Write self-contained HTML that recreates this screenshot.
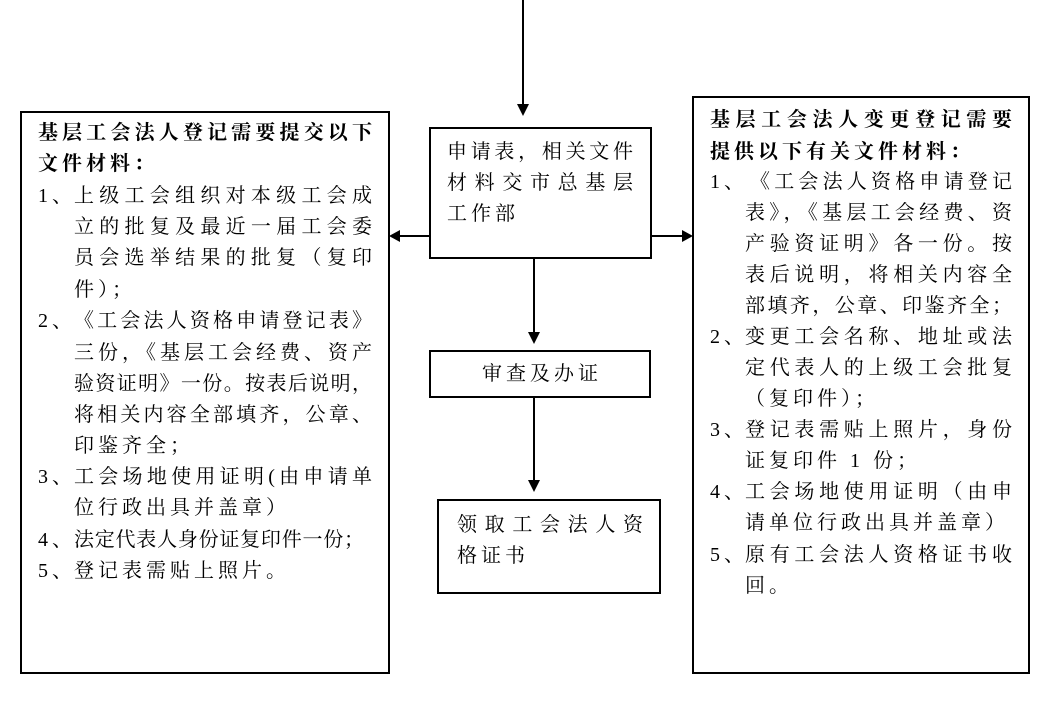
<!DOCTYPE html>
<html><head><meta charset="utf-8"><style>
body{margin:0;width:1047px;height:706px;background:#fff;position:relative;overflow:hidden;font-family:"Liberation Serif","Noto Serif CJK SC",serif;color:#000}
.b{position:absolute;border:2px solid #000;box-sizing:border-box}
.l{position:absolute;font-size:20px;line-height:24px;white-space:nowrap;letter-spacing:4px}
.j{position:absolute;font-size:20px;line-height:24px;text-align:justify;text-align-last:justify;height:24px;overflow:visible}
.t{font-weight:bold}
</style></head><body>
<div class="b" style="left:20px;top:111px;width:370px;height:563px"></div>
<div class="b" style="left:692px;top:96px;width:338px;height:578px"></div>
<div class="b" style="left:429px;top:127px;width:223px;height:132px"></div>
<div class="b" style="left:429px;top:350px;width:222px;height:48px"></div>
<div class="b" style="left:437px;top:499px;width:224px;height:95px"></div>
<svg style="position:absolute;left:0;top:0" width="1047" height="706">
<g stroke="#000" stroke-width="2" fill="none">
<line x1="523" y1="0" x2="523" y2="106"/>
<line x1="430" y1="236" x2="398" y2="236"/>
<line x1="652" y1="236" x2="684" y2="236"/>
<line x1="534" y1="259" x2="534" y2="334"/>
<line x1="534" y1="398" x2="534" y2="482"/>
</g>
<g fill="#000">
<polygon points="517,104 529,104 523,116"/>
<polygon points="400,230 400,242 389,236"/>
<polygon points="682,230 682,242 693,236"/>
<polygon points="528,332 540,332 534,344"/>
<polygon points="528,480 540,480 534,492"/>
</g>
</svg>
<!-- left -->
<div class="j t" style="left:38px;top:121px;width:334px">基层工会法人登记需要提交以下</div>
<div class="l t" style="left:38px;top:152px">文件材料：</div>
<div class="l" style="left:38px;top:184px">1、</div>
<div class="j" style="left:74px;top:184px;width:298px">上级工会组织对本级工会成</div>
<div class="j" style="left:74px;top:215px;width:298px">立的批复及最近一届工会委</div>
<div class="j" style="left:74px;top:246px;width:298px">员会选举结果的批复（复印</div>
<div class="l" style="left:74px;top:278px">件）；</div>
<div class="l" style="left:38px;top:309px">2、</div>
<div class="j" style="left:74px;top:309px;width:298px">《工会法人资格申请登记表》</div>
<div class="j" style="left:74px;top:341px;width:298px">三份，《基层工会经费、资产</div>
<div class="j" style="left:74px;top:372px;width:298px">验资证明》一份。按表后说明，</div>
<div class="j" style="left:74px;top:403px;width:298px">将相关内容全部填齐，公章、</div>
<div class="l" style="left:74px;top:434px">印鉴齐全；</div>
<div class="l" style="left:38px;top:465px">3、</div>
<div class="j" style="left:74px;top:465px;width:298px">工会场地使用证明(由申请单</div>
<div class="l" style="left:74px;top:496px">位行政出具并盖章）</div>
<div class="l" style="left:38px;top:528px">4、</div>
<div class="j" style="left:74px;top:528px;width:290px">法定代表人身份证复印件一份；</div>
<div class="l" style="left:38px;top:559px">5、</div>
<div class="l" style="left:74px;top:559px">登记表需贴上照片。</div>
<!-- right -->
<div class="j t" style="left:710px;top:108px;width:302px">基层工会法人变更登记需要</div>
<div class="l t" style="left:710px;top:140px">提供以下有关文件材料：</div>
<div class="l" style="left:710px;top:170px">1、</div>
<div class="j" style="left:750px;top:170px;width:262px">《工会法人资格申请登记</div>
<div class="j" style="left:745px;top:201px;width:267px">表》，《基层工会经费、资</div>
<div class="j" style="left:745px;top:232px;width:267px">产验资证明》各一份。按</div>
<div class="j" style="left:745px;top:263px;width:267px">表后说明，将相关内容全</div>
<div class="j" style="left:745px;top:294px;width:267px">部填齐，公章、印鉴齐全；</div>
<div class="l" style="left:710px;top:325px">2、</div>
<div class="j" style="left:745px;top:325px;width:267px">变更工会名称、地址或法</div>
<div class="j" style="left:745px;top:356px;width:267px">定代表人的上级工会批复</div>
<div class="l" style="left:745px;top:387px">（复印件）；</div>
<div class="l" style="left:710px;top:418px">3、</div>
<div class="j" style="left:745px;top:418px;width:267px">登记表需贴上照片，身份</div>
<div class="l" style="left:745px;top:449px">证复印件 1 份；</div>
<div class="l" style="left:710px;top:480px">4、</div>
<div class="j" style="left:745px;top:480px;width:267px">工会场地使用证明（由申</div>
<div class="l" style="left:745px;top:511px">请单位行政出具并盖章）</div>
<div class="l" style="left:710px;top:543px">5、</div>
<div class="j" style="left:745px;top:543px;width:267px">原有工会法人资格证书收</div>
<div class="l" style="left:745px;top:574px">回。</div>
<!-- center -->
<div class="j" style="left:447px;top:140px;width:186px">申请表，相关文件</div>
<div class="j" style="left:447px;top:171px;width:186px">材料交市总基层</div>
<div class="l" style="left:447px;top:202px">工作部</div>
<div class="l" style="left:482px;top:362px">审查及办证</div>
<div class="j" style="left:457px;top:513px;width:186px">领取工会法人资</div>
<div class="l" style="left:457px;top:544px">格证书</div>
</body></html>
